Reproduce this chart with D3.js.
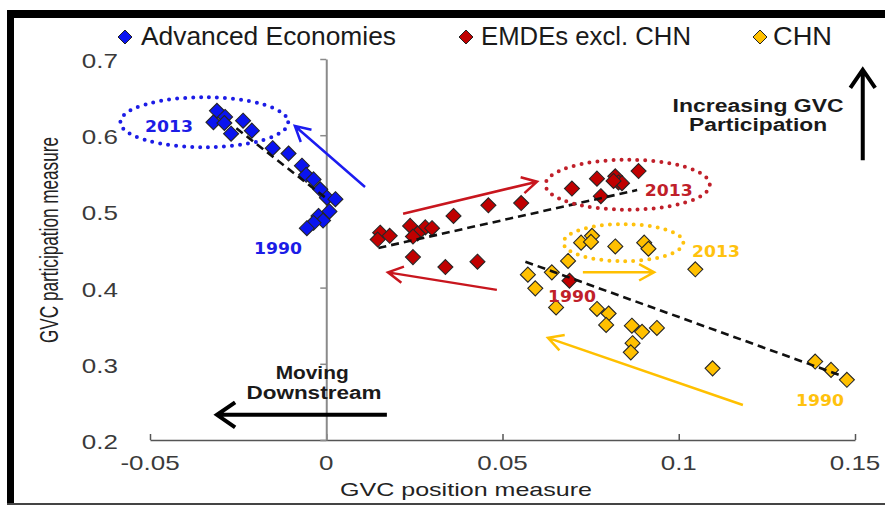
<!DOCTYPE html>
<html>
<head>
<meta charset="utf-8">
<script src="https://cdn.jsdelivr.net/npm/d3@7"></script>
<style>
  body { margin: 0; background: #fff; }
  svg { display: block; }
</style>
</head>
<body>
<script>
// ---- data -------------------------------------------------------------
const categories = ["Advanced Economies", "EMDEs excl. CHN", "CHN"];

// [GVC position, GVC participation]
const advanced = [
  [-0.0310, 0.632], [-0.0287, 0.624], [-0.0320, 0.617], [-0.0289, 0.616],
  [-0.0236, 0.619], [-0.0211, 0.606], [-0.0270, 0.602], [-0.0152, 0.583],
  [-0.0107, 0.576], [-0.0069, 0.560], [-0.0057, 0.548], [-0.0036, 0.542],
  [-0.0017, 0.529], [0.0002, 0.518], [0.0026, 0.516], [0.0009, 0.500],
  [-0.0022, 0.494], [-0.0009, 0.488], [-0.0036, 0.485], [-0.0055, 0.478]
];
const emdes = [
  [0.0886, 0.553], [0.0768, 0.543], [0.0820, 0.546], [0.0829, 0.538],
  [0.0839, 0.537], [0.0815, 0.540], [0.0697, 0.530], [0.0779, 0.520],
  [0.0553, 0.511], [0.0460, 0.508], [0.0361, 0.494], [0.0238, 0.481],
  [0.0281, 0.479], [0.0300, 0.478], [0.0259, 0.471], [0.0246, 0.467],
  [0.0153, 0.472], [0.0180, 0.468], [0.0146, 0.463], [0.0246, 0.440],
  [0.0338, 0.427], [0.0429, 0.434], [0.0690, 0.409]
];
const chn = [
  [0.0754, 0.468], [0.0723, 0.459], [0.0751, 0.460], [0.0820, 0.454],
  [0.0902, 0.459], [0.0914, 0.451], [0.0686, 0.435], [0.1047, 0.424],
  [0.0572, 0.417], [0.0640, 0.420], [0.0593, 0.399], [0.0652, 0.374],
  [0.0768, 0.372], [0.0801, 0.366], [0.0794, 0.351], [0.0867, 0.350],
  [0.0896, 0.342], [0.0938, 0.347], [0.0869, 0.327], [0.0864, 0.315],
  [0.1096, 0.294], [0.1387, 0.303], [0.1432, 0.292], [0.1477, 0.279]
];

// linear trend segments (start, end) per group
const trendAdvanced = [[-0.0255, 0.609], [0.0006, 0.515]];
const trendEmdes    = [[0.0148, 0.452], [0.0882, 0.528]];
const trendChn      = [[0.0565, 0.434], [0.1458, 0.285]];

const xTicks = [-0.05, 0, 0.05, 0.1, 0.15];
const xTickLabels = ["-0.05", "0", "0.05", "0.1", "0.15"];
const yTicks = [0.2, 0.3, 0.4, 0.5, 0.6, 0.7];
const yTickLabels = ["0.2", "0.3", "0.4", "0.5", "0.6", "0.7"];

// year markers: [label, x, y, group]
const yearLabels = [
  ["2013", -0.0446, 0.612, 0], ["1990", -0.0137, 0.452, 0],
  ["2013", 0.0972, 0.528, 1], ["1990", 0.0697, 0.389, 1],
  ["2013", 0.1106, 0.448, 2], ["1990", 0.1401, 0.252, 2]
];
// highlighted 2013 clusters: [cx, cy, rx, ry, group]
const clusters = [
  [-0.0346, 0.617, 0.0238, 0.0328, 0],
  [0.0855, 0.535, 0.0233, 0.0328, 1],
  [0.0843, 0.459, 0.0170, 0.0243, 2]
];
// direction arrows: [x0, y0, x1, y1, group]
const moves = [
  [0.0110, 0.532, -0.0089, 0.612, 0],
  [0.0218, 0.497, 0.0598, 0.539, 1],
  [0.0484, 0.397, 0.0175, 0.420, 1],
  [0.0728, 0.420, 0.0930, 0.420, 2],
  [0.1182, 0.246, 0.0629, 0.334, 2]
];
const guideArrows = [
  [0.1522, 0.567, 0.1522, 0.686],
  [0.0172, 0.233, -0.0310, 0.233]
];
const guideTexts = [
  ["Increasing GVC", 0.1225, 0.6304, 171],
  ["Participation", 0.1225, 0.6055, 138],
  ["Moving", -0.0040, 0.2801, 73],
  ["Downstream", -0.0035, 0.2538, 135]
];

// ---- styles -----------------------------------------------------------
const fills = ["#0a14f0", "#c00000", "#ffc000"];
const strokesCol = ["#1c1cf0", "#c8161e", "#ffc000"];
const labelCol = ["#1c1ce6", "#c0202a", "#ffc20e"];

const W = 885, H = 507;
const svg = d3.select("body").append("svg").attr("width", W).attr("height", H);

const x = d3.scaleLinear().domain([-0.05, 0.15]).range([150, 855]);
const y = d3.scaleLinear().domain([0.2, 0.7]).range([440, 59]);

// frame
svg.append("rect").attr("x", 7).attr("y", 10).attr("width", W - 7).attr("height", 8).attr("fill", "#000");
svg.append("rect").attr("x", 7).attr("y", 10).attr("width", 7).attr("height", 494).attr("fill", "#000");
svg.append("rect").attr("x", 7).attr("y", 503).attr("width", W - 7).attr("height", 2).attr("fill", "#444");

const font = "'Liberation Sans', Arial, sans-serif";

// x axis along the bottom
const xAxis = svg.append("g").attr("transform", `translate(0,${y(0.2)})`)
  .call(d3.axisBottom(x).tickValues(xTicks).tickSizeInner(-6).tickSizeOuter(0).tickFormat(""));
xAxis.select(".domain").attr("stroke", "#555").attr("stroke-width", 1.5);
xAxis.selectAll(".tick line").attr("stroke", "#555").attr("stroke-width", 1.5);

svg.append("g").selectAll("text").data(xTicks).join("text")
  .attr("transform", d => `translate(${x(d)},${y(0.2) + 30}) scale(1.3,1)`)
  .attr("text-anchor", "middle")
  .attr("font-family", font).attr("font-size", 20).attr("fill", "#3a3a3a")
  .text((d, i) => xTickLabels[i]);

// y axis crossing at zero position
const yAxis = svg.append("g").attr("transform", `translate(${x(0)},0)`)
  .call(d3.axisLeft(y).tickValues(yTicks).tickSizeInner(6).tickSizeOuter(0).tickFormat(""));
yAxis.select(".domain").attr("stroke", "#8a8a8a").attr("stroke-width", 2);
yAxis.selectAll(".tick line").attr("stroke", "#8a8a8a").attr("stroke-width", 1.5);

svg.append("g").selectAll("text").data(yTicks).join("text")
  .attr("transform", d => `translate(118,${y(d) + 9}) scale(1.3,1)`)
  .attr("text-anchor", "end")
  .attr("font-family", font).attr("font-size", 20).attr("fill", "#3a3a3a")
  .text((d, i) => yTickLabels[i]);

// axis titles
svg.append("text")
  .attr("x", 466).attr("y", 496).attr("text-anchor", "middle")
  .attr("font-family", font).attr("font-size", 19).attr("fill", "#222")
  .attr("textLength", 252).attr("lengthAdjust", "spacingAndGlyphs")
  .text("GVC position measure");
svg.append("text")
  .attr("transform", "translate(58,240) rotate(-90) scale(1,1.3)")
  .attr("text-anchor", "middle")
  .attr("font-family", font).attr("font-size", 20).attr("fill", "#222")
  .attr("textLength", 206).attr("lengthAdjust", "spacingAndGlyphs")
  .text("GVC participation measure");

// legend
const diamond = r => `M0,${-r}L${r},0L0,${r}L${-r},0Z`;
const legendPos = [[125, 141, 255], [466, 481, 210], [760, 773, 59]];
const legend = svg.append("g").selectAll("g").data(categories).join("g");
legend.append("path")
  .attr("d", diamond(7))
  .attr("transform", (d, i) => `translate(${legendPos[i][0]},37)`)
  .attr("fill", (d, i) => fills[i]).attr("stroke", "#222").attr("stroke-width", 1);
legend.append("text")
  .attr("x", (d, i) => legendPos[i][1]).attr("y", 45)
  .attr("font-family", font).attr("font-size", 25).attr("fill", "#1a1a1a")
  .attr("textLength", (d, i) => legendPos[i][2]).attr("lengthAdjust", "spacingAndGlyphs")
  .text(d => d);

// points
[advanced, emdes, chn].forEach((series, gi) => {
  svg.append("g").selectAll("path").data(series).join("path")
    .attr("d", diamond(7.5))
    .attr("transform", d => `translate(${x(d[0])},${y(d[1])})`)
    .attr("fill", fills[gi]).attr("stroke", "#262626").attr("stroke-width", 1.1);
});

// trend lines
[trendAdvanced, trendEmdes, trendChn].forEach(t => {
  svg.append("line")
    .attr("x1", x(t[0][0])).attr("y1", y(t[0][1]))
    .attr("x2", x(t[1][0])).attr("y2", y(t[1][1]))
    .attr("stroke", "#111").attr("stroke-width", 2.6).attr("stroke-dasharray", "8,5");
});

// 2013 cluster rings
svg.append("g").selectAll("ellipse").data(clusters).join("ellipse")
  .attr("cx", d => x(d[0])).attr("cy", d => y(d[1]))
  .attr("rx", d => x(d[2]) - x(0)).attr("ry", d => y(0) - y(d[3]))
  .attr("fill", "none").attr("stroke", d => labelCol[d[4]])
  .attr("stroke-width", 4).attr("stroke-linecap", "round").attr("stroke-dasharray", "0,8");

// year labels
svg.append("g").selectAll("text").data(yearLabels).join("text")
  .attr("x", d => x(d[1])).attr("y", d => y(d[2]) + 6)
  .attr("text-anchor", "middle")
  .attr("font-family", "'DejaVu Sans', Verdana, sans-serif").attr("font-weight", "bold")
  .attr("font-size", 15).attr("fill", d => labelCol[d[3]])
  .attr("textLength", 48).attr("lengthAdjust", "spacingAndGlyphs")
  .text(d => d[0]);

// arrows with open chevron heads
function arrow(g, x0, y0, x1, y1, color, width, head, spread) {
  const a = Math.atan2(y1 - y0, x1 - x0);
  const p = d3.path();
  p.moveTo(x0, y0); p.lineTo(x1, y1);
  p.moveTo(x1 - head * Math.cos(a - spread), y1 - head * Math.sin(a - spread));
  p.lineTo(x1, y1);
  p.lineTo(x1 - head * Math.cos(a + spread), y1 - head * Math.sin(a + spread));
  g.append("path").attr("d", p.toString()).attr("fill", "none")
    .attr("stroke", color).attr("stroke-width", width)
    .attr("stroke-linecap", "butt").attr("stroke-linejoin", "miter");
}
const arrowLayer = svg.append("g");
moves.forEach(m => arrow(arrowLayer, x(m[0]), y(m[1]), x(m[2]), y(m[3]), strokesCol[m[4]], 2.5, 17, 0.5));
guideArrows.forEach(m => arrow(arrowLayer, x(m[0]), y(m[1]), x(m[2]), y(m[3]), "#000", 4, 22, 0.6));

// guide captions
svg.append("g").selectAll("text").data(guideTexts).join("text")
  .attr("x", d => x(d[1])).attr("y", d => y(d[2]))
  .attr("text-anchor", "middle")
  .attr("font-family", font).attr("font-weight", "bold")
  .attr("font-size", 18).attr("fill", "#1a1a1a")
  .attr("textLength", d => d[3]).attr("lengthAdjust", "spacingAndGlyphs")
  .text(d => d[0]);
</script>
</body>
</html>
